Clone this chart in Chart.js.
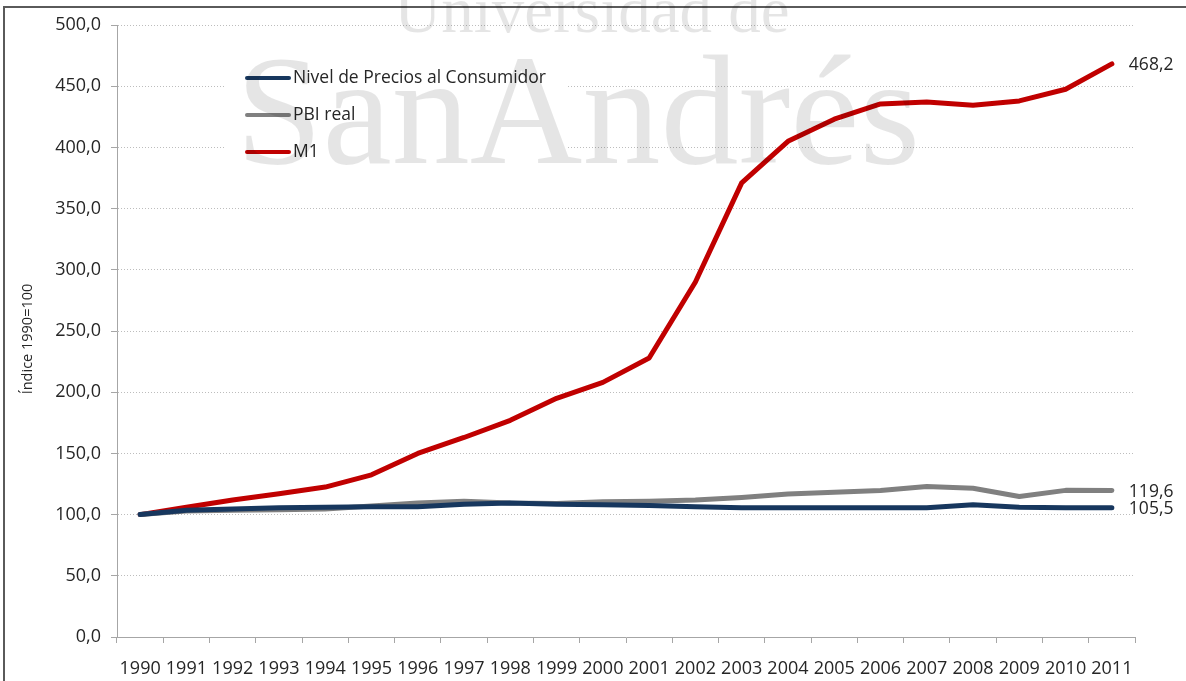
<!DOCTYPE html>
<html>
<head>
<meta charset="utf-8">
<script src="https://cdn.jsdelivr.net/npm/chart.js@4/dist/chart.umd.min.js"></script>
<style>
  html, body { margin: 0; padding: 0; background: #ffffff; }
  #wrap { position: relative; width: 1186px; height: 681px; }
</style>
</head>
<body>
<div id="wrap"><canvas id="chart" width="1186" height="681"></canvas></div>
<script>
// Índices 1990=100
const years = ['1990','1991','1992','1993','1994','1995','1996','1997','1998','1999','2000',
               '2001','2002','2003','2004','2005','2006','2007','2008','2009','2010','2011'];
const precios = [100, 103.5, 104.5, 105.5, 106, 106.5, 106.5, 108.5, 109.5, 108.5, 108,
                 107.5, 106.5, 105.5, 105.5, 105.5, 105.5, 105.5, 108, 106, 105.5, 105.5];
const pbiReal = [100, 103, 103.5, 104, 104.5, 107, 109.5, 111, 109.5, 109, 110.5,
                 111, 112, 114, 116.8, 118.2, 119.6, 123, 121.5, 114.8, 119.8, 119.6];
const m1 = [100, 106, 112, 117, 122.5, 132.5, 150, 163, 177, 195, 208,
            228, 290, 371, 405, 423, 435.5, 437, 434.5, 438, 447.5, 468.2];
const seriesNames = ['Nivel de Precios al Consumidor', 'PBI real', 'M1'];
const yTicks = [0, 50, 100, 150, 200, 250, 300, 350, 400, 450, 500];
const yTitle = 'Índice 1990=100';

const FONT = '"Open Sans", "Liberation Sans", sans-serif';
const TEXT = '#262626';
const fmt = v => v.toFixed(1).replace('.', ',');

// Legend drawn inside the plot area, over a white box
const innerLegend = {
  id: 'innerLegend',
  afterDatasetsDraw(chart) {
    const ctx = chart.ctx;
    ctx.save();
    ctx.fillStyle = '#ffffff';
    ctx.fillRect(226, 58, 340, 112);
    ctx.font = '17.5px ' + FONT;
    ctx.textBaseline = 'middle';
    chart.data.datasets.forEach((ds, i) => {
      const y = 78 + i * 37;
      ctx.strokeStyle = ds.borderColor;
      ctx.lineWidth = 4;
      ctx.lineCap = 'round';
      ctx.beginPath();
      ctx.moveTo(247, y);
      ctx.lineTo(289, y);
      ctx.stroke();
      ctx.fillStyle = TEXT;
      ctx.fillText(ds.label, 293, y);
    });
    ctx.restore();
  }
};

// Value of the last point of each series, written to the right of it
const endLabels = {
  id: 'endLabels',
  afterDatasetsDraw(chart) {
    const ctx = chart.ctx;
    ctx.save();
    ctx.font = '17.5px ' + FONT;
    ctx.fillStyle = TEXT;
    ctx.textBaseline = 'middle';
    chart.data.datasets.forEach((ds, i) => {
      const meta = chart.getDatasetMeta(i);
      const pt = meta.data[meta.data.length - 1];
      const v = ds.data[ds.data.length - 1];
      ctx.fillText(fmt(v), pt.x + 17, pt.y + 1);
    });
    ctx.restore();
  }
};

// Rotated title of the value axis
const axisTitle = {
  id: 'axisTitle',
  afterDraw(chart) {
    const ctx = chart.ctx;
    ctx.save();
    ctx.translate(28, 339);
    ctx.rotate(-Math.PI / 2);
    ctx.font = '14.5px ' + FONT;
    ctx.fillStyle = TEXT;
    ctx.textAlign = 'center';
    ctx.textBaseline = 'middle';
    ctx.fillText(yTitle, 0, 0);
    ctx.restore();
  }
};

// Frame and institutional watermark
const frameAndMark = {
  id: 'frameAndMark',
  afterDraw(chart) {
    const ctx = chart.ctx;
    ctx.save();
    ctx.strokeStyle = '#5a5a5a';
    ctx.lineWidth = 2;
    ctx.strokeRect(4, 7, 1300, 800);
    ctx.fillStyle = 'rgba(0,0,0,0.1)';
    ctx.textAlign = 'center';
    ctx.textBaseline = 'alphabetic';
    ctx.font = '65px "Liberation Serif", "DejaVu Serif", serif';
    ctx.fillText('Universidad de', 592, 32);
    ctx.font = '156px "Liberation Serif", "DejaVu Serif", serif';
    ctx.fillText('SanAndrés', 578, 163);
    ctx.restore();
  }
};

new Chart(document.getElementById('chart'), {
  type: 'line',
  data: {
    labels: years,
    datasets: [
      { label: seriesNames[0], data: precios, borderColor: '#17375e' },
      { label: seriesNames[1], data: pbiReal, borderColor: '#808080' },
      { label: seriesNames[2], data: m1, borderColor: '#c00000' }
    ].map(d => Object.assign(d, {
      borderWidth: 5, pointRadius: 0, pointHoverRadius: 0, tension: 0,
      borderCapStyle: 'round', borderJoinStyle: 'round', fill: false
    }))
  },
  options: {
    responsive: false,
    animation: false,
    events: [],
    layout: { padding: { top: 25, right: 51, left: 0, bottom: 0 } },
    plugins: { legend: { display: false }, tooltip: { enabled: false } },
    scales: {
      x: {
        type: 'category',
        offset: true,
        grid: {
          offset: true, drawOnChartArea: false, drawTicks: true,
          tickLength: 6, tickColor: '#a6a6a6', tickBorderDash: []
        },
        border: { color: '#a6a6a6', width: 1 },
        ticks: {
          color: TEXT, font: { family: FONT, size: 18 },
          maxRotation: 0, autoSkip: false, padding: 15
        },
        afterFit(s) { s.height = 44; }
      },
      y: {
        min: 0, max: 500,
        afterBuildTicks(s) { s.ticks = yTicks.map(v => ({ value: v })); },
        grid: {
          color: '#bdbdbd', lineWidth: 1,
          drawTicks: true, tickLength: 6, tickColor: '#a6a6a6', tickBorderDash: []
        },
        border: { color: '#a6a6a6', width: 1, dash: [1, 2] },
        ticks: {
          color: TEXT, font: { family: FONT, size: 18 }, padding: 10,
          callback: v => fmt(v)
        },
        afterFit(s) { s.width = 117; }
      }
    }
  },
  plugins: [innerLegend, endLabels, axisTitle, frameAndMark]
});
</script>
</body>
</html>
